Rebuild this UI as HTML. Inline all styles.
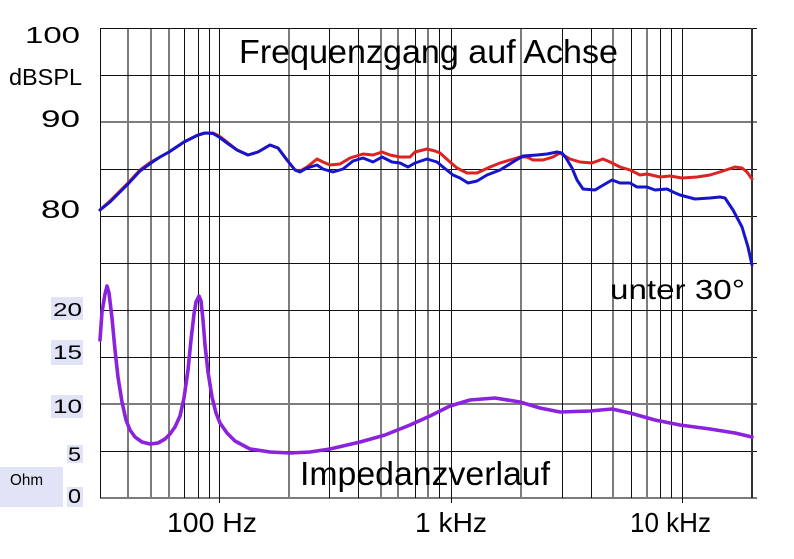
<!DOCTYPE html>
<html><head><meta charset="utf-8"><style>
html,body{margin:0;padding:0;background:#fff;}
svg{display:block;}
text{font-family:"Liberation Sans",Arial,sans-serif;fill:#000;}
</style></head><body>
<svg width="794" height="559" viewBox="0 0 794 559" xmlns="http://www.w3.org/2000/svg">
<rect x="0" y="0" width="794" height="559" fill="#fff"/>
<!-- label boxes -->
<g fill="#e1e4f6">
<rect x="51" y="297" width="32" height="23"/>
<rect x="51" y="340" width="32" height="25"/>
<rect x="51" y="395" width="32" height="23"/>
<rect x="67" y="445" width="16" height="18"/>
<rect x="67" y="487" width="16" height="20"/>
<rect x="0" y="467" width="63" height="40"/>
</g>
<!-- gray (antialiased) vertical grid lines -->
<g stroke="#7c7c7c" stroke-width="2">
<line x1="128" y1="28" x2="128" y2="498"/>
<line x1="151" y1="28" x2="151" y2="498"/>
<line x1="169" y1="28" x2="169" y2="498"/>
<line x1="289" y1="28" x2="289" y2="498"/>
<line x1="381" y1="28" x2="381" y2="498"/>
<line x1="398" y1="28" x2="398" y2="498"/>
<line x1="428" y1="28" x2="428" y2="498"/>
<line x1="521" y1="28" x2="521" y2="498"/>
<line x1="613" y1="28" x2="613" y2="498"/>
<line x1="647" y1="28" x2="647" y2="498"/>
<line x1="100" y1="122" x2="757" y2="122"/>
<line x1="100" y1="404" x2="757" y2="404"/>
<line x1="100" y1="498" x2="757" y2="498"/>
</g>
<!-- black grid lines -->
<g stroke="#111" stroke-width="1">
<line x1="100.5" y1="28" x2="100.5" y2="498"/>
<line x1="184.5" y1="28" x2="184.5" y2="498"/>
<line x1="198.5" y1="28" x2="198.5" y2="498"/>
<line x1="209.5" y1="28" x2="209.5" y2="498"/>
<line x1="219.5" y1="28" x2="219.5" y2="503"/>
<line x1="329.5" y1="28" x2="329.5" y2="498"/>
<line x1="358.5" y1="28" x2="358.5" y2="498"/>
<line x1="415.5" y1="28" x2="415.5" y2="498"/>
<line x1="439.5" y1="28" x2="439.5" y2="498"/>
<line x1="451.5" y1="28" x2="451.5" y2="503"/>
<line x1="562.5" y1="28" x2="562.5" y2="498"/>
<line x1="591.5" y1="28" x2="591.5" y2="498"/>
<line x1="631.5" y1="28" x2="631.5" y2="498"/>
<line x1="660.5" y1="28" x2="660.5" y2="498"/>
<line x1="671.5" y1="28" x2="671.5" y2="498"/>
<line x1="682.5" y1="28" x2="682.5" y2="503"/>
<line x1="100" y1="28.5" x2="757" y2="28.5"/>
<line x1="100" y1="75.5" x2="757" y2="75.5"/>
<line x1="100" y1="169.5" x2="757" y2="169.5"/>
<line x1="100" y1="216.5" x2="757" y2="216.5"/>
<line x1="100" y1="263.5" x2="757" y2="263.5"/>
<line x1="100" y1="310.5" x2="757" y2="310.5"/>
<line x1="100" y1="357.5" x2="757" y2="357.5"/>
<line x1="100" y1="451.5" x2="757" y2="451.5"/>
</g>
<line x1="752" y1="28" x2="752" y2="498" stroke="#333" stroke-width="2"/>

<!-- red curve -->
<polyline fill="none" stroke="#dd2222" stroke-width="3" stroke-linejoin="round" stroke-linecap="round" points="
100,210 110,201 120,191 128,183 140,170 151,162 160,157 169,152 184,142 198,135 205,133 213,133 219,136 227,142 237,150 248,155 258,152 270,145 278,148 287,160 295,170 300,171 307,167 317,159 323,162 330,165 340,164 350,158 363,154 373,155 382,152 390,155 400,157 410,157 415,152 427,149 435,151 440,153 450,162 457,168 467,173 477,173 490,167 500,163 510,160 520,157 527,157 533,160 543,160 553,157 560,153 570,159 580,162 592,163 603,159 610,162 620,167 630,170 640,175 647,174 660,177 670,176 682,178 697,177 710,175 723,171 735,167 742,168 747,172 752,179"/>
<!-- blue curve -->
<polyline fill="none" stroke="#1515cc" stroke-width="3" stroke-linejoin="round" stroke-linecap="round" points="
100,210 110,202 120,192 128,184 140,171 151,163 160,157 169,152 184,142 198,135 205,133 213,133.5 219,137 227,143 237,150 248,155 258,152 270,145 278,148 287,160 295,170 300,172 307,168 317,165 323,169 333,172 343,169 353,161 363,158 373,162 382,157 392,162 400,163 408,167 415,163 427,159 437,162 443,167 453,175 460,178 468,183 477,181 487,175 500,170 513,162 523,156 537,155 547,154 557,152 562,153 566,158 572,168 577,180 583,189 595,190 600,187 612,180 620,183 630,183 637,187 647,187 655,190 667,189 673,192 680,195 695,199 710,198 720,197 725,198 733,210 742,227 748,247 752,265"/>
<!-- impedance -->
<polyline fill="none" stroke="#8b22de" stroke-width="3.6" stroke-linejoin="round" stroke-linecap="round" points="
100,340 102,312 105,294 107,286 109,293 112,318 115,350 118,377 122,402 126,420 130,430 135,437 142,442 150,444 158,443 165,439 170,434 175,427 180,416 184,398 188,370 191,340 194,314 196,302 199,296 201,301 203,320 205,345 208,372 212,397 216,413 220,423 227,433 235,441 250,449 270,452 290,453 310,452 330,449 360,442 385,435 410,425 430,416 450,406 470,400 495,398 520,402 540,408 560,412 590,411 612,409 630,413 655,420 680,425 710,429 735,433 752,437"/>

<!-- texts -->
<text x="239" y="63" font-size="33" textLength="379" lengthAdjust="spacingAndGlyphs">Frequenzgang auf Achse</text>
<text x="610" y="299" font-size="28" textLength="135" lengthAdjust="spacingAndGlyphs">unter 30°</text>
<text x="300" y="485" font-size="33" textLength="250" lengthAdjust="spacingAndGlyphs">Impedanzverlauf</text>
<text x="167" y="532" font-size="28" textLength="90" lengthAdjust="spacingAndGlyphs">100 Hz</text>
<text x="415" y="532" font-size="28" textLength="72" lengthAdjust="spacingAndGlyphs">1 kHz</text>
<text x="630" y="532" font-size="28" textLength="81" lengthAdjust="spacingAndGlyphs">10 kHz</text>

<text x="25" y="43" font-size="23" textLength="55" lengthAdjust="spacingAndGlyphs">100</text>
<text x="9" y="85" font-size="23" textLength="73" lengthAdjust="spacingAndGlyphs">dBSPL</text>
<text x="41" y="127" font-size="24" textLength="39" lengthAdjust="spacingAndGlyphs">90</text>
<text x="41" y="218" font-size="25" textLength="39" lengthAdjust="spacingAndGlyphs">80</text>

<text x="53" y="316" font-size="18" textLength="29" lengthAdjust="spacingAndGlyphs">20</text>
<text x="53" y="359" font-size="19" textLength="29" lengthAdjust="spacingAndGlyphs">15</text>
<text x="53" y="413" font-size="19" textLength="29" lengthAdjust="spacingAndGlyphs">10</text>
<text x="68" y="461" font-size="19" textLength="13" lengthAdjust="spacingAndGlyphs">5</text>
<text x="68" y="503" font-size="20" textLength="13" lengthAdjust="spacingAndGlyphs">0</text>
<text x="10" y="485" font-size="16" textLength="33" lengthAdjust="spacingAndGlyphs">Ohm</text>
</svg>
</body></html>
